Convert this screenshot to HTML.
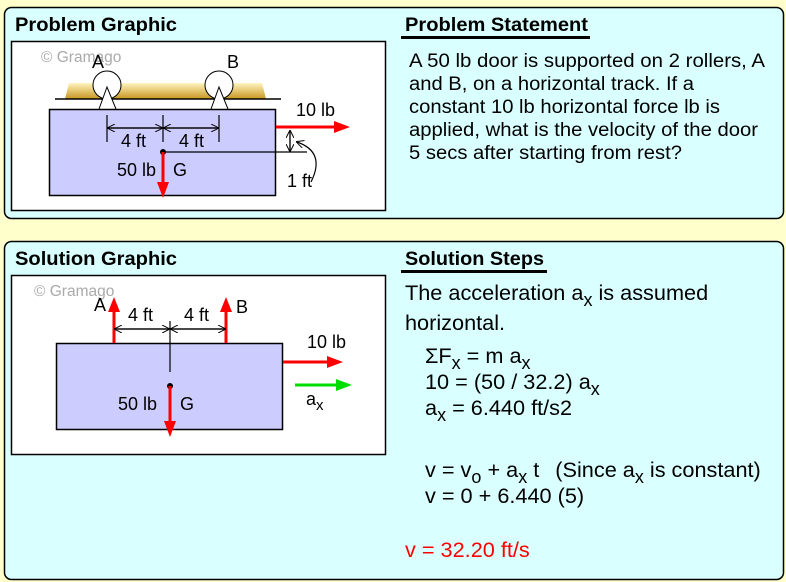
<!DOCTYPE html>
<html><head><meta charset="utf-8"><style>
html,body{margin:0;padding:0;background:#ffffcc;}
svg{display:block;font-family:"Liberation Sans",Arial,sans-serif;}
</style></head><body>
<svg width="786" height="582" viewBox="0 0 786 582" xmlns="http://www.w3.org/2000/svg">
<defs>
<linearGradient id="gold" x1="0" y1="0" x2="0" y2="1">
<stop offset="0" stop-color="#fff4c0"/><stop offset="1" stop-color="#c8961e"/>
</linearGradient>
<marker id="ah" markerWidth="8" markerHeight="8" refX="7" refY="4" orient="auto" markerUnits="userSpaceOnUse"><path d="M0,0 L8,4 L0,8" fill="none" stroke="#000" stroke-width="1"/></marker>
</defs>
<rect width="786" height="582" fill="#ffffcc"/>
<rect x="4.5" y="7.5" width="779" height="211" rx="7" fill="#d9ffff" stroke="#000" stroke-width="1.5"/>
<rect x="4.5" y="241.5" width="779" height="338" rx="7" fill="#d9ffff" stroke="#000" stroke-width="1.5"/>
<text x="15" y="31" font-size="19" font-weight="bold" textLength="162" lengthAdjust="spacingAndGlyphs">Problem Graphic</text>
<text x="15" y="265" font-size="19" font-weight="bold" textLength="162" lengthAdjust="spacingAndGlyphs">Solution Graphic</text>
<text x="405" y="31" font-size="19" font-weight="bold" textLength="183" lengthAdjust="spacingAndGlyphs">Problem Statement</text>
<rect x="401" y="36" width="189" height="3" fill="#000"/>
<text x="405" y="265" font-size="19" font-weight="bold" textLength="139" lengthAdjust="spacingAndGlyphs">Solution Steps</text>
<rect x="401" y="270" width="146" height="3" fill="#000"/>
<g font-size="19">
<text x="409" y="67" textLength="356" lengthAdjust="spacingAndGlyphs">A 50 lb door is supported on 2 rollers, A</text>
<text x="409" y="90" textLength="285" lengthAdjust="spacingAndGlyphs">and B, on a horizontal track. If a</text>
<text x="409" y="113" textLength="311" lengthAdjust="spacingAndGlyphs">constant 10 lb horizontal force lb is</text>
<text x="409" y="136" textLength="349" lengthAdjust="spacingAndGlyphs">applied, what is the velocity of the door</text>
<text x="409" y="159" textLength="273" lengthAdjust="spacingAndGlyphs">5 secs after starting from rest?</text>
</g>
<g font-size="21.7">
<text x="405" y="300">The acceleration a<tspan font-size="18" dy="6">x</tspan><tspan dy="-6"> is assumed</tspan></text>
<text x="405" y="330">horizontal.</text>
<text x="425" y="363">ΣF<tspan font-size="18" dy="6">x</tspan><tspan dy="-6"> = m a</tspan><tspan font-size="18" dy="6">x</tspan></text>
<text x="425" y="389">10 = (50 / 32.2) a<tspan font-size="18" dy="6">x</tspan></text>
<text x="425" y="415">a<tspan font-size="18" dy="6">x</tspan><tspan dy="-6"> = 6.440 ft/s2</tspan></text>
<text x="425" y="477">v = v<tspan font-size="18" dy="6">o</tspan><tspan dy="-6"> + a</tspan><tspan font-size="18" dy="6">x</tspan><tspan dy="-6"> t   </tspan><tspan dx="10">(Since a</tspan><tspan font-size="18" dy="6">x</tspan><tspan dy="-6"> is constant)</tspan></text>
<text x="425" y="503">v = 0 + 6.440 (5)</text>
<text x="405" y="557" fill="#ff0000">v = 32.20 ft/s</text>
</g>
<!-- Problem graphic -->
<rect x="11.5" y="41.5" width="374" height="169" fill="#fff" stroke="#000" stroke-width="1.5"/>
<text x="41" y="62" font-size="15.5" fill="#aaa">© Gramago</text>
<path d="M65,99 L69,83 L262,83 L266,99 Z" fill="url(#gold)"/>
<line x1="55" y1="99" x2="281" y2="99" stroke="#000" stroke-width="1.5"/>
<circle cx="107" cy="85" r="14" fill="#fff" stroke="#000"/>
<circle cx="219" cy="85" r="14" fill="#fff" stroke="#000"/>
<path d="M99,109 L107,87 L116,109" fill="#fff" stroke="#000"/>
<path d="M211,109 L219,87 L228,109" fill="#fff" stroke="#000"/>
<text x="92" y="68" font-size="18">A</text>
<text x="227" y="68" font-size="18">B</text>
<rect x="49.5" y="109.5" width="226" height="86" fill="#ccccff" stroke="#000" stroke-width="1.5"/>
<g stroke="#000" stroke-width="1.2">
<line x1="107" y1="115" x2="107" y2="142"/><line x1="163" y1="115" x2="163" y2="142"/><line x1="219" y1="115" x2="219" y2="142"/>
<line x1="108" y1="128" x2="162" y2="128" marker-end="url(#ah)"/><line x1="162" y1="128" x2="108" y2="128" marker-end="url(#ah)"/>
<line x1="164" y1="128" x2="218" y2="128" marker-end="url(#ah)"/><line x1="218" y1="128" x2="164" y2="128" marker-end="url(#ah)"/>
<line x1="163" y1="152" x2="307" y2="152"/>
<line x1="290" y1="131" x2="290" y2="151" marker-end="url(#ah)"/><line x1="290" y1="151" x2="290" y2="131" marker-end="url(#ah)"/>
<path d="M311,182 Q326,152 297,142" fill="none" marker-end="url(#ah)"/>
</g>
<text x="121" y="147" font-size="18">4 ft</text>
<text x="179" y="147" font-size="18">4 ft</text>
<circle cx="163" cy="152" r="3" fill="#000"/>
<line x1="163" y1="152" x2="163" y2="184" stroke="#f00" stroke-width="3"/>
<path d="M157,182 L169,182 L163,198 Z" fill="#f00"/>
<text x="117" y="176" font-size="18">50 lb</text>
<text x="173" y="176" font-size="18">G</text>
<line x1="276" y1="127" x2="336" y2="127" stroke="#f00" stroke-width="3"/>
<path d="M334,121 L350,127 L334,133 Z" fill="#f00"/>
<text x="296" y="116" font-size="18">10 lb</text>
<text x="287" y="187" font-size="18">1 ft</text>
<!-- Solution graphic -->
<rect x="11.5" y="275.5" width="374" height="179" fill="#fff" stroke="#000" stroke-width="1.5"/>
<text x="34" y="296" font-size="15.5" fill="#aaa">© Gramago</text>
<rect x="56.5" y="343.5" width="226" height="86" fill="#ccccff" stroke="#000" stroke-width="1.5"/>
<line x1="114" y1="343" x2="114" y2="310" stroke="#f00" stroke-width="3"/>
<path d="M108,312 L120,312 L114,297 Z" fill="#f00"/>
<line x1="226" y1="343" x2="226" y2="310" stroke="#f00" stroke-width="3"/>
<path d="M220,312 L232,312 L226,297 Z" fill="#f00"/>
<text x="94" y="311" font-size="18">A</text>
<text x="236" y="313" font-size="18">B</text>
<g stroke="#000" stroke-width="1.2">
<line x1="170" y1="321" x2="170" y2="372"/>
<line x1="115" y1="329" x2="169" y2="329" marker-end="url(#ah)"/><line x1="169" y1="329" x2="115" y2="329" marker-end="url(#ah)"/>
<line x1="171" y1="329" x2="225" y2="329" marker-end="url(#ah)"/><line x1="225" y1="329" x2="171" y2="329" marker-end="url(#ah)"/>
</g>
<text x="128" y="321" font-size="18">4 ft</text>
<text x="184" y="321" font-size="18">4 ft</text>
<circle cx="170" cy="386" r="3" fill="#000"/>
<line x1="170" y1="386" x2="170" y2="423" stroke="#f00" stroke-width="3"/>
<path d="M164,421 L176,421 L170,437 Z" fill="#f00"/>
<text x="118" y="410" font-size="18">50 lb</text>
<text x="180" y="410" font-size="18">G</text>
<line x1="283" y1="362" x2="329" y2="362" stroke="#f00" stroke-width="3"/>
<path d="M327,356 L343,362 L327,368 Z" fill="#f00"/>
<text x="307" y="348" font-size="18">10 lb</text>
<line x1="295" y1="385" x2="338" y2="385" stroke="#0d0" stroke-width="3"/>
<path d="M336,379 L352,385 L336,391 Z" fill="#0d0"/>
<text x="306" y="405" font-size="18">a<tspan font-size="15" dy="5">x</tspan></text>
</svg>
</body></html>
